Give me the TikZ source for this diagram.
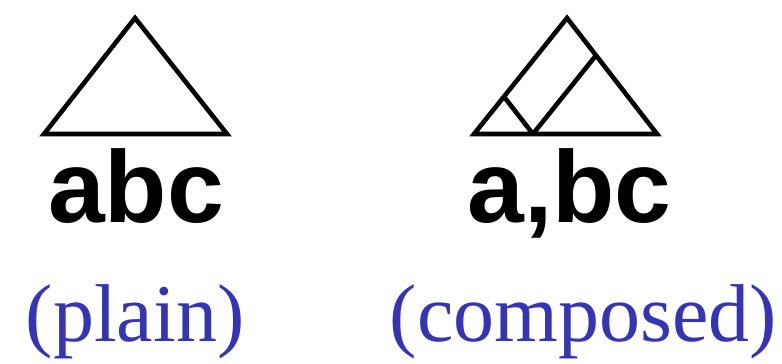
\documentclass[tikz,border=0pt]{standalone}
\usepackage{fontspec}
\newfontfamily\wordfont{Liberation Sans}
\newfontfamily\notefont{Liberation Serif}
\usepackage{tikz}
\usetikzlibrary{calc}
\definecolor{NoteBlue}{RGB}{52,52,180}
\tikzset{
  tree/.style={draw=black,line width=4.6pt},
  word/.style={anchor=base,inner sep=0pt,font=\wordfont\bfseries\fontsize{102}{110}\selectfont},
  note/.style={anchor=base,inner sep=0pt,text=NoteBlue,font=\notefont\fontsize{82}{90}\selectfont},
}
\begin{document}
\begin{tikzpicture}[x=1pt,y=1pt]
\useasboundingbox (0,0) rectangle (782,364);
% plain tree
\coordinate (pl) at (44,230);
\coordinate (pr) at (227,230);
\coordinate (pt) at (135,346);
\draw[tree] (pl)--(pr)--(pt)--cycle;
% composed tree
\coordinate (cl) at (474,230);
\coordinate (cr) at (657,230);
\coordinate (ct) at (567,346);
\coordinate (cb) at ($(cl)!0.322!(cr)$);
\coordinate (ca) at ($(cl)!0.322!(ct)$);
\coordinate (cc) at ($(cr)!0.678!(ct)$);
\draw[tree] (cl)--(cr)--(ct)--cycle;
\draw[tree] (ca)--(cb);
\draw[tree] (cb)--(cc);
% labels
\node[word] (abc) at (136,141) {abc};
\node[word] (abcs) at (569.5,141) {a,bc};
\node[note] (plain) at (135,22) {(plain)};
\node[note] (comp) at (583.5,22) {(composed)};
\end{tikzpicture}
\end{document}
